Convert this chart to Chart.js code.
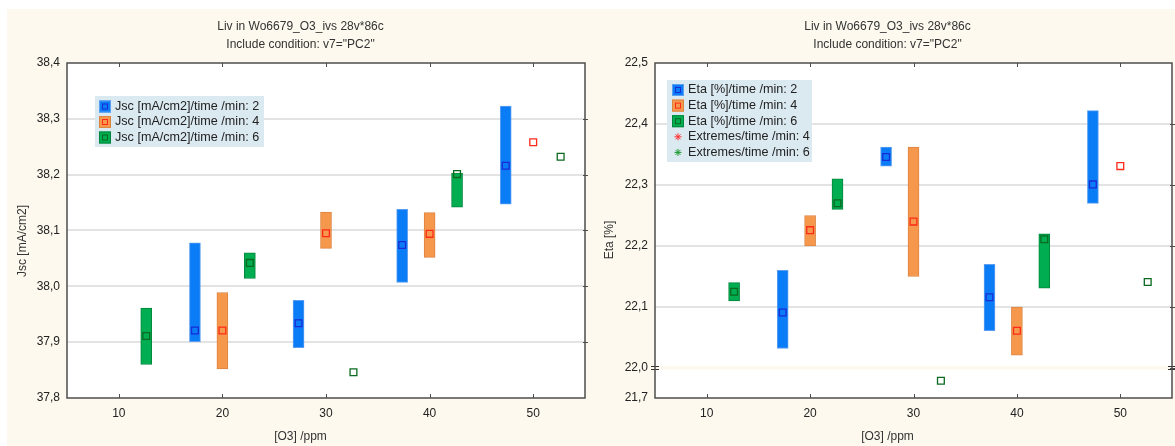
<!DOCTYPE html>
<html>
<head>
<meta charset="utf-8">
<script src="https://cdn.jsdelivr.net/npm/chart.js@4.4.0/dist/chart.umd.min.js"></script>
<style>
  html, body { margin: 0; padding: 0; background: #ffffff; overflow: hidden; }
  #wrap { position: absolute; left: 7px; top: 9px; width: 1168px; height: 437px; background: #fdf9ee; overflow: hidden; }
  #jscChart { position: absolute; left: 0; top: 0; }
  #etaChart { position: absolute; left: 587px; top: 0; }
</style>
</head>
<body>
<div id="wrap">
  <canvas id="jscChart" width="587" height="437"></canvas>
  <canvas id="etaChart" width="587" height="437"></canvas>
</div>
<script>
// ---- data ----
const o3Levels = [10, 20, 30, 40, 50];
const o3Ticks = [10, 20, 30, 40, 50];
const timeLabels = ["2", "4", "6"];

const jscTicks = [37.8, 37.9, 38.0, 38.1, 38.2, 38.3, 38.4];
// box low / high / centre marker, per time group, aligned with o3Levels
const jscLow2 = [null, 37.901, 37.890, 38.007, 38.147];
const jscHigh2 = [null, 38.078, 37.975, 38.138, 38.323];
const jscMid2 = [null, 37.921, 37.934, 38.074, 38.216];
const jscLow4 = [null, 37.852, 38.068, 38.052, null];
const jscHigh4 = [null, 37.989, 38.133, 38.132, null];
const jscMid4 = [null, 37.921, 38.095, 38.094, 38.258];
const jscLow6 = [37.860, 38.014, null, 38.142, null];
const jscHigh6 = [37.961, 38.060, null, 38.203, null];
const jscMid6 = [37.911, 38.042, 37.846, 38.201, 38.232];

const etaTicks = [21.7, 22.0, 22.1, 22.2, 22.3, 22.4, 22.5];
const etaLow2 = [null, 22.032, 22.331, 22.061, 22.270];
const etaHigh2 = [null, 22.160, 22.362, 22.170, 22.422];
const etaMid2 = [null, 22.091, 22.346, 22.116, 22.301];
const etaLow4 = [null, 22.200, 22.150, 22.021, null];
const etaHigh4 = [null, 22.250, 22.362, 22.100, null];
const etaMid4 = [null, 22.226, 22.240, 22.061, 22.331];
const etaLow6 = [22.110, 22.260, null, 22.131, null];
const etaHigh6 = [22.140, 22.310, null, 22.220, null];
const etaMid6 = [22.125, 22.270, 21.872, 22.211, 22.141];

// ---- styling ----
const SHIFT = [-2.65, 0, 2.65]; // time groups sit left / on / right of each O3 level
const boxFill = ["#0a7cf6", "#f6984c", "#00ad50"];
const boxEdge = ["#5c9ff0", "#dd8440", "#00853c"];
const markColor = ["#1a2bd8", "#ff2a1a", "#0b6a20"];

// Eta axis is broken at 22,0: everything below is squeezed
const ETA_BREAK = 22.0;
const ETA_SQUEEZE = 10 / 61;
function etaMap(v) {
  return v >= ETA_BREAK ? v : ETA_BREAK - (ETA_BREAK - v) * ETA_SQUEEZE;
}
function same(v) { return v; }

Chart.defaults.font.family = "'Liberation Sans', Arial, sans-serif";
Chart.defaults.font.size = 12;
Chart.defaults.color = "#222";

function boxPoints(lows, highs, shift, map) {
  const pts = [];
  o3Levels.forEach(function (o3, i) {
    if (lows[i] !== null) pts.push({ x: o3 + shift, y: [map(lows[i]), map(highs[i])] });
  });
  return pts;
}

function markPoints(mids, shift, map) {
  const pts = [];
  o3Levels.forEach(function (o3, i) {
    if (mids[i] !== null) pts.push({ x: o3 + shift, y: map(mids[i]) });
  });
  return pts;
}

function fmt(v) {
  return v.toFixed(1).replace(".", ",");
}

// titles, frame, legend, axis break
const decorPlugin = {
  id: "decor",
  beforeDraw(chart) {
    const a = chart.chartArea;
    const ctx = chart.ctx;
    ctx.save();
    ctx.fillStyle = "#ffffff";
    ctx.fillRect(a.left, a.top, a.right - a.left, a.bottom - a.top);
    ctx.restore();
  },
  afterDraw(chart, args, o) {
    const a = chart.chartArea;
    const ctx = chart.ctx;
    const xs = chart.scales.x;
    const ys = chart.scales.y;
    const cx = chart.width / 2;
    ctx.save();

    // axis break band
    if (o.breakAt != null) {
      const yb = ys.getPixelForValue(o.breakAt);
      ctx.fillStyle = "#fdf9ee";
      ctx.fillRect(a.left, yb - 2, a.right - a.left, 3.5);
      ctx.strokeStyle = "#333";
      ctx.lineWidth = 1;
      [a.left, a.right].forEach(function (px) {
        ctx.beginPath();
        ctx.moveTo(px - 4, Math.round(yb - 2) + 0.5);
        ctx.lineTo(px + 4, Math.round(yb - 2) + 0.5);
        ctx.moveTo(px - 4, Math.round(yb + 1.5) + 0.5);
        ctx.lineTo(px + 4, Math.round(yb + 1.5) + 0.5);
        ctx.stroke();
      });
    }

    // frame
    ctx.strokeStyle = "#4d4d4d";
    ctx.lineWidth = 1.5;
    ctx.strokeRect(a.left, a.top, a.right - a.left, a.bottom - a.top);

    // small tick marks
    ctx.lineWidth = 1;
    ctx.beginPath();
    o3Ticks.forEach(function (v) {
      const px = Math.round(xs.getPixelForValue(v)) + 0.5;
      ctx.moveTo(px, a.bottom);
      ctx.lineTo(px, a.bottom - 4);
      ctx.moveTo(px, a.top);
      ctx.lineTo(px, a.top + 4);
    });
    ys.ticks.forEach(function (t, i) {
      if (i === 0 || i === ys.ticks.length - 1) return;
      const py = Math.round(ys.getPixelForValue(t.value)) + 0.5;
      ctx.moveTo(a.right - 2, py);
      ctx.lineTo(a.right + 3, py);
    });
    ctx.stroke();

    // titles
    ctx.fillStyle = "#333";
    ctx.textAlign = "center";
    ctx.textBaseline = "middle";
    ctx.font = "12px 'Liberation Sans', Arial, sans-serif";
    ctx.fillText("Liv in Wo6679_O3_ivs 28v*86c", cx, 17.7);
    ctx.fillText('Include condition: v7="PC2"', cx, 35.3);
    ctx.fillText("[O3] /ppm", cx, 427.7);
    ctx.save();
    ctx.translate(o.yTitleX, o.yTitleY);
    ctx.rotate(-Math.PI / 2);
    ctx.fillText(o.yTitle, 0, 0);
    ctx.restore();

    // legend
    const L = o.legend;
    ctx.fillStyle = "#dbe9f1";
    ctx.fillRect(L.x, L.y, L.w, L.h);
    ctx.textAlign = "left";
    ctx.font = "12.6px 'Liberation Sans', Arial, sans-serif";
    L.rows.forEach(function (r, i) {
      const ry = L.row0 + i * L.step;
      if (r.kind === "box") {
        ctx.fillStyle = r.fill;
        ctx.fillRect(L.iconX, ry - 6, 12, 12);
        ctx.strokeStyle = r.edge;
        ctx.lineWidth = 1;
        ctx.strokeRect(L.iconX + 0.5, ry - 5.5, 11, 11);
        ctx.strokeStyle = r.mark;
        ctx.strokeRect(L.iconX + 3.5, ry - 2.5, 5, 5);
      } else {
        ctx.strokeStyle = r.mark;
        ctx.lineWidth = 1;
        const sx = L.iconX + 6;
        ctx.beginPath();
        ctx.moveTo(sx - 3.5, ry); ctx.lineTo(sx + 3.5, ry);
        ctx.moveTo(sx, ry - 3.5); ctx.lineTo(sx, ry + 3.5);
        ctx.moveTo(sx - 2.5, ry - 2.5); ctx.lineTo(sx + 2.5, ry + 2.5);
        ctx.moveTo(sx - 2.5, ry + 2.5); ctx.lineTo(sx + 2.5, ry - 2.5);
        ctx.stroke();
      }
      ctx.fillStyle = "#222";
      ctx.fillText(r.label, L.textX, ry);
    });
    ctx.restore();
  },
};

function buildChart(canvasId, cfg) {
  const map = cfg.map;
  const datasets = [];
  cfg.lows.forEach(function (lows, g) {
    datasets.push({
      type: "bar",
      data: boxPoints(lows, cfg.highs[g], SHIFT[g], map),
      backgroundColor: boxFill[g],
      borderColor: boxEdge[g],
      borderWidth: 1,
      borderSkipped: false,
      barThickness: 11,
      grouped: false,
      order: 2,
    });
  });
  cfg.mids.forEach(function (mids, g) {
    datasets.push({
      type: "scatter",
      data: markPoints(mids, SHIFT[g], map),
      pointStyle: "rect",
      pointRadius: 4.8,
      pointBorderWidth: 1.3,
      pointBackgroundColor: "rgba(0,0,0,0)",
      pointBorderColor: markColor[g],
      order: 1,
    });
  });

  const yTicks = cfg.yTicks;
  new Chart(document.getElementById(canvasId).getContext("2d"), {
    type: "bar",
    data: { datasets: datasets },
    options: {
      responsive: false,
      animation: false,
      devicePixelRatio: 1,
      layout: { padding: { top: 54, right: 9, bottom: 0, left: 0 } },
      plugins: {
        legend: { display: false },
        tooltip: { enabled: false },
        title: { display: false },
        decor: cfg.decor,
      },
      scales: {
        x: {
          type: "linear",
          min: 5,
          max: 55,
          offset: false,
          afterBuildTicks: function (s) {
            s.ticks = o3Ticks.map(function (v) { return { value: v }; });
          },
          afterFit: function (s) { s.height = 48; },
          grid: { display: false, drawTicks: false },
          border: { display: false },
          ticks: {
            padding: 8,
            autoSkip: false,
            maxRotation: 0,
            callback: function (v) { return String(v); },
          },
        },
        y: {
          type: "linear",
          min: map(yTicks[0]),
          max: map(yTicks[yTicks.length - 1]),
          afterBuildTicks: function (s) {
            s.ticks = yTicks.map(function (v) { return { value: map(v) }; });
          },
          afterFit: function (s) { s.width = cfg.yWidth; },
          grid: {
            drawTicks: false,
            lineWidth: 2,
            color: function (c) {
              if (c.index === 0 || c.index === yTicks.length - 1) return "rgba(0,0,0,0)";
              if (cfg.decor.breakAt != null && yTicks[c.index] === cfg.decor.breakAt) return "rgba(0,0,0,0)";
              return "#e3e3e3";
            },
          },
          border: { display: false },
          ticks: {
            padding: 7,
            callback: function (v, i) { return fmt(yTicks[i]); },
          },
        },
      },
    },
    plugins: [decorPlugin],
  });
}

function initializeCharts() {
  buildChart("jscChart", {
    map: same,
    yTicks: jscTicks,
    yWidth: 60,
    lows: [jscLow2, jscLow4, jscLow6],
    highs: [jscHigh2, jscHigh4, jscHigh6],
    mids: [jscMid2, jscMid4, jscMid6],
    decor: {
      yTitle: "Jsc [mA/cm2]",
      yTitleX: 16,
      yTitleY: 232,
      breakAt: null,
      legend: {
        x: 88, y: 87, w: 169, h: 51,
        row0: 97.5, step: 15.5, iconX: 92, textX: 108,
        rows: timeLabels.map(function (t, g) {
          return { kind: "box", label: "Jsc [mA/cm2]/time /min: " + t, fill: boxFill[g], edge: boxEdge[g], mark: markColor[g] };
        }),
      },
    },
  });

  const etaRows = timeLabels.map(function (t, g) {
    return { kind: "box", label: "Eta [%]/time /min: " + t, fill: boxFill[g], edge: boxEdge[g], mark: markColor[g] };
  });
  etaRows.push({ kind: "star", label: "Extremes/time /min: 4", mark: "#ff3030" });
  etaRows.push({ kind: "star", label: "Extremes/time /min: 6", mark: "#1e9a30" });

  buildChart("etaChart", {
    map: etaMap,
    yTicks: etaTicks,
    yWidth: 61,
    lows: [etaLow2, etaLow4, etaLow6],
    highs: [etaHigh2, etaHigh4, etaHigh6],
    mids: [etaMid2, etaMid4, etaMid6],
    decor: {
      yTitle: "Eta [%]",
      yTitleX: 15.5,
      yTitleY: 231,
      breakAt: ETA_BREAK,
      legend: {
        x: 73, y: 71, w: 145, h: 82,
        row0: 81, step: 15.6, iconX: 78, textX: 94,
        rows: etaRows,
      },
    },
  });
}

if (document.readyState === "loading") {
  document.addEventListener("DOMContentLoaded", initializeCharts);
} else {
  initializeCharts();
}
</script>
</body>
</html>
